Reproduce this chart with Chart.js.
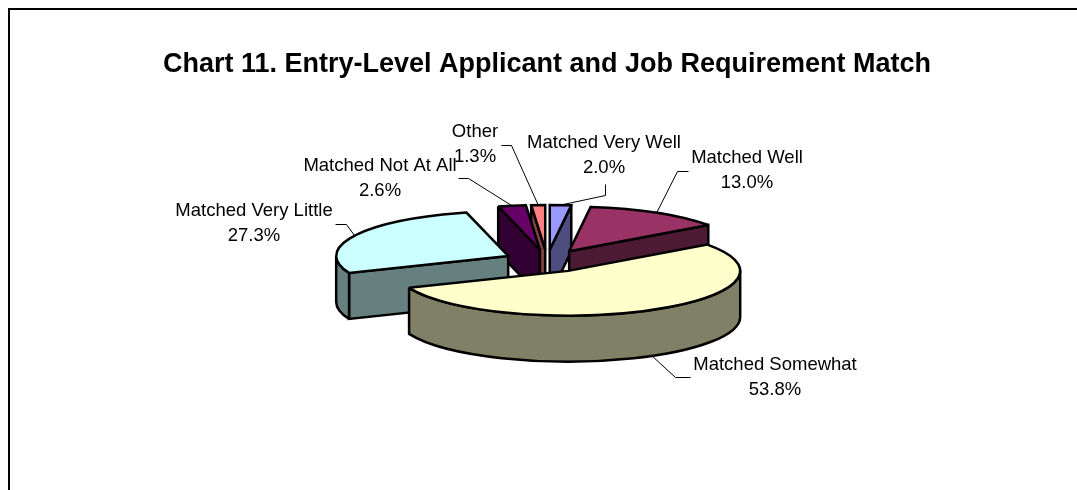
<!DOCTYPE html>
<html>
<head>
<meta charset="utf-8">
<title>Chart 11</title>
<script src="https://cdn.jsdelivr.net/npm/chart.js@4"></script>
<style>
    html, body { margin: 0; padding: 0; background: #fff; overflow: hidden; }
    canvas { display: block; }
</style>
</head>
<body>
<canvas id="chart" width="1077" height="490"></canvas>
<script>
var chartTitle = "Chart 11. Entry-Level Applicant and Job Requirement Match";
var categories = ["Matched Very Well", "Matched Well", "Matched Somewhat", "Matched Very Little", "Matched Not At All", "Other"];
var shares = [2.0, 13.0, 53.8, 27.3, 2.6, 1.3];
var shareLabels = ["2.0%", "13.0%", "53.8%", "27.3%", "2.6%", "1.3%"];
var sliceColors = ["#9999ff", "#993366", "#ffffcc", "#ccffff", "#660066", "#ff8080"];
var sideColors = ["#4d4d80", "#4d1a33", "#808066", "#668080", "#330033", "#804040"];

// back to front, so nearer slices cover the ones behind
var drawOrder = [5, 0, 1, 4, 3, 2];

// pie look
var tilt = 0.26;
var explode = 43.5;
var depth = 46;

// label centre (x, y of first line) and leader elbow points, one entry per slice
var labelPos = [[604, 143], [747, 158], [775, 365], [254, 211], [380, 166], [475, 132]];
var leaderPoints = [
    [[605, 184], [605, 195]],
    [[688, 171], [677, 171]],
    [[690, 377], [675, 377]],
    [[335, 224], [346, 224]],
    [[458, 178], [468, 178]],
    [[501, 145], [511, 145]]
];

function drawShape(ctx, fill) {
    ctx.fillStyle = fill;
    ctx.fill();
    ctx.stroke();
}

function drawCutFace(ctx, cx, cy, r, a, fill) {
    var x = cx + r * Math.cos(a);
    var y = cy + r * tilt * Math.sin(a);
    ctx.beginPath();
    ctx.moveTo(cx, cy);
    ctx.lineTo(x, y);
    ctx.lineTo(x, y + depth);
    ctx.lineTo(cx, cy + depth);
    ctx.closePath();
    drawShape(ctx, fill);
}

function drawOuterWall(ctx, cx, cy, r, a0, a1, fill) {
    // only the part of the rim facing the viewer, canvas angles 0..PI
    var list = [[a0, a1], [a0 - 2 * Math.PI, a1 - 2 * Math.PI]];
    list.forEach(function (p) {
        var from = Math.max(p[0], 0);
        var to = Math.min(p[1], Math.PI);
        if (to <= from) return;
        ctx.beginPath();
        ctx.ellipse(cx, cy, r, r * tilt, 0, from, to);
        ctx.ellipse(cx, cy + depth, r, r * tilt, 0, to, from, true);
        ctx.closePath();
        drawShape(ctx, fill);
    });
}

var pie3d = {
    id: "pie3d",
    beforeDraw: function (chart) {
        var ctx = chart.ctx;
        ctx.save();
        ctx.fillStyle = "#fff";
        ctx.fillRect(0, 0, chart.width, chart.height);
        // outer frame, runs off the page on the right and bottom
        ctx.strokeStyle = "#000";
        ctx.lineWidth = 2;
        ctx.strokeRect(9, 9, chart.width + 50, chart.height + 50);
        ctx.restore();
    },
    beforeDatasetsDraw: function (chart) {
        var ctx = chart.ctx;
        var arcs = chart.getDatasetMeta(0).data;
        var centres = arcs.map(function (arc) {
            var mid = (arc.startAngle + arc.endAngle) / 2;
            return {
                mid: mid,
                x: arc.x + explode * Math.cos(mid),
                y: arc.y + explode * tilt * Math.sin(mid)
            };
        });

        ctx.save();
        ctx.strokeStyle = "#000";
        ctx.lineWidth = 2.5;
        ctx.lineJoin = "miter";
        ctx.miterLimit = 2;
        drawOrder.forEach(function (i) {
            var arc = arcs[i];
            var c = centres[i];
            var r = arc.outerRadius;
            if (Math.cos(arc.startAngle) < -1e-6) drawCutFace(ctx, c.x, c.y, r, arc.startAngle, sideColors[i]);
            if (Math.cos(arc.endAngle) > 1e-6) drawCutFace(ctx, c.x, c.y, r, arc.endAngle, sideColors[i]);
            drawOuterWall(ctx, c.x, c.y, r, arc.startAngle, arc.endAngle, sideColors[i]);
            ctx.beginPath();
            ctx.moveTo(c.x, c.y);
            ctx.ellipse(c.x, c.y, r, r * tilt, 0, arc.startAngle, arc.endAngle);
            ctx.closePath();
            drawShape(ctx, arc.options.backgroundColor);
        });

        // leader lines
        ctx.lineWidth = 1;
        arcs.forEach(function (arc, i) {
            var c = centres[i];
            var r = arc.outerRadius;
            var ex = c.x + r * Math.cos(c.mid);
            var ey = c.y + r * tilt * Math.sin(c.mid);
            if (Math.sin(c.mid) > 0) ey += depth;
            ctx.beginPath();
            leaderPoints[i].forEach(function (p, k) {
                if (k === 0) ctx.moveTo(p[0] + 0.5, p[1] + 0.5);
                else ctx.lineTo(p[0] + 0.5, p[1] + 0.5);
            });
            ctx.lineTo(ex, ey);
            ctx.stroke();
        });

        // labels
        ctx.fillStyle = "#000";
        ctx.font = "18.5px 'Liberation Sans', Arial, sans-serif";
        ctx.textAlign = "center";
        ctx.textBaseline = "middle";
        categories.forEach(function (name, i) {
            ctx.fillText(name, labelPos[i][0], labelPos[i][1]);
            ctx.fillText(shareLabels[i], labelPos[i][0], labelPos[i][1] + 25);
        });
        ctx.restore();
        return false;
    }
};

new Chart(document.getElementById("chart"), {
    type: "pie",
    data: {
        labels: categories,
        datasets: [{
            data: shares,
            backgroundColor: sliceColors,
            radius: 172
        }]
    },
    options: {
        responsive: false,
        animation: false,
        devicePixelRatio: 1,
        layout: { padding: { left: 17, bottom: 68.4 } },
        plugins: {
            legend: { display: false },
            tooltip: { enabled: false },
            title: {
                display: true,
                text: chartTitle,
                color: "#000",
                font: { family: "'Liberation Sans', Arial, sans-serif", size: 27, weight: "bold" },
                padding: { top: 48, bottom: 20 }
            }
        }
    },
    plugins: [pie3d]
});
</script>
</body>
</html>
